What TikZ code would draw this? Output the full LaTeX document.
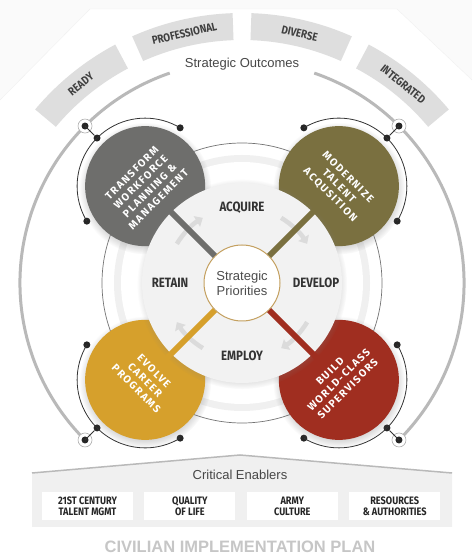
\documentclass[tikz,border=0pt]{standalone}
\usepackage{fontspec}
\setmainfont{Liberation Sans}
\newfontfamily\condfont{Fira Sans}[FakeStretch=0.85]
\newfontfamily\spacedfont{Fira Sans}[LetterSpace=14]
\usetikzlibrary{arrows.meta,positioning,calc,shadows}

\definecolor{wfgrey}{RGB}{110,110,108}
\definecolor{taolive}{RGB}{122,112,64}
\definecolor{cpgold}{RGB}{214,160,44}
\definecolor{supred}{RGB}{160,46,32}
\definecolor{ringgold}{RGB}{196,160,96}

\begin{document}
\begin{tikzpicture}[
  x=1pt, y=1pt,
  outarc/.style={line width=3pt, draw=gray!55},
  outtab/.style={fill=gray!26},
  tablabel/.style={font=\condfont\bfseries\fontsize{11.5}{13}\selectfont, text=black!75, inner sep=1pt},
  wire/.style={draw=black!80, line width=.8pt},
  dot/.style={circle, fill=black!85, inner sep=0pt, minimum size=7pt},
  hub/.style={circle, draw=gray!65, fill=white, line width=.6pt, inner sep=0pt, minimum size=14pt,
    path picture={\fill[black!85] (path picture bounding box.center) circle[radius=3.5pt];}},
  petal/.style={circle, inner sep=0pt, minimum size=120pt,
    circular drop shadow={shadow xshift=0pt, shadow yshift=-2pt, opacity=.35}},
  petaltext/.style={align=center, text=white, font=\spacedfont\bfseries\fontsize{10.5}{12.5}\selectfont},
  bar/.style={line width=6pt},
  turn/.style={line width=4.5pt, draw=gray!28, -{Triangle[width=12pt,length=7pt]}},
  stage/.style={font=\condfont\bfseries\fontsize{13.5}{15}\selectfont, text=black!80},
  prio/.style={circle, draw=ringgold, line width=1pt, fill=white, minimum size=76pt, inner sep=0pt,
    align=center, font=\fontsize{13}{15}\selectfont, text=black!70},
  enbox/.style={fill=white, minimum width=91pt, minimum height=28pt, inner sep=1pt, align=center,
    font=\condfont\bfseries\fontsize{10.8}{11}\selectfont, text=black!85},
]
\useasboundingbox (0,0) rectangle (472,557);
% page background with the cut top corners
\fill[gray!4] (0,0) rectangle (472,557);
\fill[white] (0,0) -- (0,457) -- (90,548) -- (397,548) -- (472,477) -- (472,0) -- cycle;
\draw[gray!12] (0,457) -- (90,548) -- (397,548) -- (472,477);

\begin{scope}[shift={(242,274)}]
  % outcome tabs
  \foreach \a in {129,103,77,51}
    \fill[outtab] (\a+11:243) arc[start angle=\a+11, end angle=\a-11, radius=243]
      -- (\a-11:270) arc[start angle=\a-11, end angle=\a+11, radius=270] -- cycle;
  \foreach \a/\word in {129/READY,103/PROFESSIONAL,77/DIVERSE,51/INTEGRATED}
    \node[tablabel, rotate=\a-90] (tab\a) at (\a:256) {\word};
  \node[font=\fontsize{13}{15}\selectfont, text=black!72] (outcomes) at (90:219) {Strategic Outcomes};

  % outer arc
  \draw[outarc] (109:222) arc[start angle=109, end angle=225, radius=222];
  \draw[outarc] (71:222) arc[start angle=71, end angle=-45, radius=222];

  % hubs and the wires round each petal
  \foreach \a/\n in {135/tl,45/tr,225/bl,-45/br} {
    \node[hub] (hub\n) at (\a:222) {};
    \node[dot] (in\n) at (\a:205) {};
    \coordinate (cc\n) at (\a:137);
    \node[dot] (ea\n) at ($(cc\n)+(\a+76:68)$) {};
    \node[dot] (eb\n) at ($(cc\n)+(\a-76:68)$) {};
    \draw[wire] (ea\n.center) arc[start angle=\a+76, end angle=\a-76, radius=68];
    \draw[wire] (hub\n.center) -- (in\n);
  }

  % rings
  \draw[draw=black!55, line width=.7pt, fill=white] (0,0) circle[radius=140];
  \fill[gray!12] (0,0) circle[radius=128];
  \fill[white] (0,0) circle[radius=121];

  % petals
  \node[petal, fill=wfgrey] (transform) at (135:137) {};
  \node[petal, fill=taolive] (modernize) at (45:137) {};
  \node[petal, fill=cpgold] (evolve) at (225:137) {};
  \node[petal, fill=supred] (build) at (-45:137) {};

  % priorities disc
  \fill[gray!10, circular drop shadow={shadow scale=1.05, shadow xshift=0pt, shadow yshift=-1pt, opacity=.45}]
    (0,0) circle[radius=100];
  \foreach \a in {135,45,-45,-135}
    \draw[turn] (\a+14:76) arc[start angle=\a+14, end angle=\a-14, radius=76];

  \node[prio] (priority) at (0,0) {Strategic\\Priorities};
  \draw[bar, wfgrey] (priority) -- (transform.center);
  \draw[bar, taolive] (priority) -- (modernize.center);
  \draw[bar, cpgold] (priority) -- (evolve.center);
  \draw[bar, supred] (priority) -- (build.center);

  \node[petaltext, rotate=45] (transformtxt) at (transform) {TRANSFORM\\WORKFORCE\\PLANNING \&\\MANAGEMENT};
  \node[petaltext, rotate=-45] (modernizetxt) at (modernize) {MODERNIZE\\TALENT\\ACQUSITION};
  \node[petaltext, rotate=-45] (evolvetxt) at (evolve) {EVOLVE\\CAREER\\PROGRAMS};
  \node[petaltext, rotate=45] (buildtxt) at (build) {BUILD\\WORLD-CLASS\\SUPERVISORS};

  \node[stage] (acquire) at (0,75) {ACQUIRE};
  \node[stage] (develop) at (74,0) {DEVELOP};
  \node[stage] (employ) at (0,-73) {EMPLOY};
  \node[stage] (retain) at (-72,0) {RETAIN};
\end{scope}

% critical enablers
\fill[gray!12] (32,30) -- (32,84) -- (240,102) -- (452,84) -- (452,30) -- cycle;
\draw[gray!55, line width=1.5pt] (32,84) -- (240,102) -- (452,84);
\node[font=\fontsize{13}{15}\selectfont, text=black!72] (enablers) at (240,82) {Critical Enablers};
\node[enbox] (talent) at (87.5,51) {21ST CENTURY\\TALENT MGMT};
\node[enbox, right=11pt of talent] (quality) {QUALITY\\OF LIFE};
\node[enbox, right=11pt of quality] (culture) {ARMY\\CULTURE};
\node[enbox, right=11pt of culture] (resources) {RESOURCES\\\& AUTHORITIES};

\node[font=\bfseries\fontsize{16.5}{18}\selectfont, text=gray!45] (plan) at (240,10) {CIVILIAN IMPLEMENTATION PLAN};
\end{tikzpicture}
\end{document}
